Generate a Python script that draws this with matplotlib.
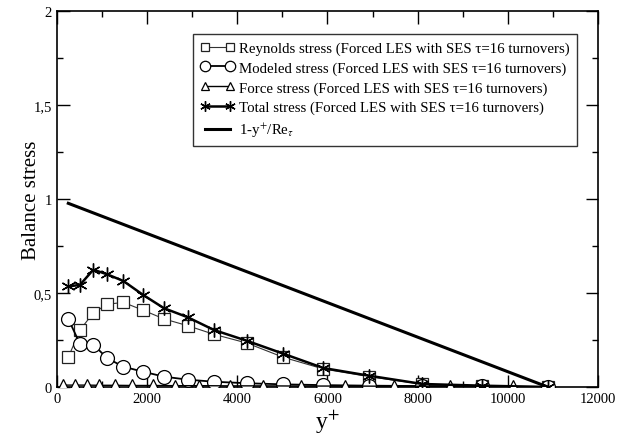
import numpy as np
import matplotlib
matplotlib.use("Agg")
import matplotlib.pyplot as plt
from matplotlib.ticker import MultipleLocator, FuncFormatter

plt.rcParams["font.family"] = ["Liberation Serif", "DejaVu Serif"]
plt.rcParams["mathtext.fontset"] = "stix"

# y+ positions of the main profiles
yp = [251, 510, 806, 1116, 1471, 1915, 2374, 2899, 3483, 4208, 5020, 5907,
      6921, 8104, 9421, 10885]

reynolds = [0.158, 0.303, 0.394, 0.440, 0.450, 0.408, 0.362, 0.326, 0.280,
            0.234, 0.158, 0.096, 0.055, 0.015, 0.005, 0.0]
modeled = [0.362, 0.229, 0.225, 0.153, 0.108, 0.081, 0.055, 0.039, 0.028,
           0.020, 0.014, 0.010, 0.007, 0.005, 0.003, 0.0]
total = [0.535, 0.543, 0.624, 0.599, 0.564, 0.489, 0.419, 0.371, 0.303,
         0.246, 0.177, 0.101, 0.060, 0.016, 0.007, 0.0]

# force stress sits on its own (finer) grid
yp_force = [140, 399, 658, 939, 1287, 1657, 2123, 2617, 3157, 3838, 4563,
            5413, 6389, 7476, 8718, 10109]
force = [0.010, 0.010, 0.010, 0.009, 0.009, 0.008, 0.008, 0.007, 0.007,
         0.006, 0.006, 0.005, 0.005, 0.004, 0.004, 0.003]

# theoretical line 1 - y+/Re_tau
yp_line = [251, 10885]
line = [0.977, 0.0]

fig = plt.figure(figsize=(6.31, 4.39), dpi=100)
ax = fig.add_axes([0.0903, 0.1162, 0.8574, 0.8565])

ax.plot(yp, reynolds, color="#333333", lw=0.8, marker="s", ms=8.5,
        mfc="white", mec="#222222", mew=0.9,
        label="Reynolds stress (Forced LES with SES \u03c4=16 turnovers)", zorder=3)
ax.plot(yp, modeled, color="black", lw=1.3, marker="o", ms=10,
        mfc="white", mec="black", mew=0.9,
        label="Modeled stress (Forced LES with SES \u03c4=16 turnovers)", zorder=3)
ax.plot(yp_force, force, color="black", lw=1.0, marker="^", ms=8,
        mfc="white", mec="black", mew=0.9,
        label="Force stress (Forced LES with SES \u03c4=16 turnovers)", zorder=3)
ax.plot(yp, total, color="black", lw=1.8, marker=(6, 2, 0), ms=10,
        mec="black", mew=1.0,
        label="Total stress (Forced LES with SES \u03c4=16 turnovers)", zorder=4)
ax.plot(yp_line, line, color="black", lw=2.2,
        label=r"1-y$^{+}$/Re$_{\tau}$", zorder=5)

ax.set_xlim(0, 12000)
ax.set_ylim(0, 2)
ax.xaxis.set_major_locator(MultipleLocator(2000))
ax.xaxis.set_minor_locator(MultipleLocator(1000))
ax.yaxis.set_major_locator(MultipleLocator(0.5))
ax.yaxis.set_minor_locator(MultipleLocator(0.25))
ax.yaxis.set_major_formatter(FuncFormatter(lambda v, p: f"{v:g}".replace(".", ",")))
ax.tick_params(which="both", direction="in", top=True, right=True, labelsize=10.5)
ax.tick_params(which="major", length=9, width=1.0)
ax.tick_params(which="minor", length=4.5, width=1.0)
for s in ax.spines.values():
    s.set_linewidth(1.2)

ax.set_xlabel(r"y$^{+}$", fontsize=17, labelpad=2)
ax.set_ylabel("Balance stress", fontsize=15, labelpad=-5)

leg = ax.legend(loc="upper right", bbox_to_anchor=(0.961, 0.939), numpoints=2,
                fontsize=10.7, frameon=True, fancybox=False, handlelength=2.3,
                markerscale=0.75, borderpad=0.5, labelspacing=0.42,
                handletextpad=0.3, borderaxespad=0)
leg.get_frame().set_edgecolor("black")
leg.get_frame().set_linewidth(1.0)

fig.savefig("out.png", dpi=100)
